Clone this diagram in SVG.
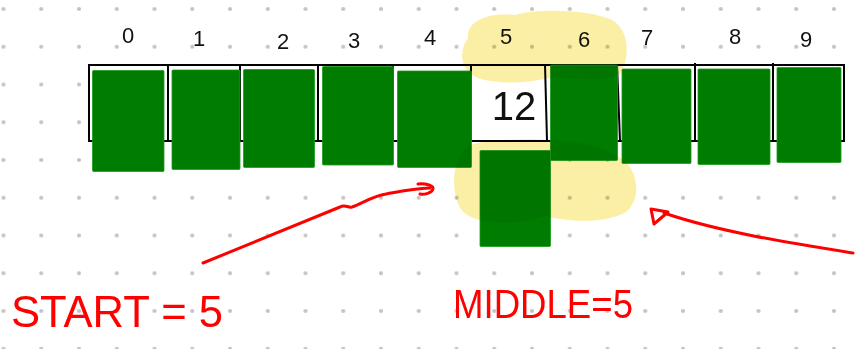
<svg xmlns="http://www.w3.org/2000/svg" width="867" height="349" viewBox="0 0 867 349">
<style>
.idx{font-family:"Liberation Sans",Arial,sans-serif;font-size:22px;fill:#111;text-anchor:middle}
.blk{fill:#007d00;stroke:#1a9a1a;stroke-width:0.8}
.red{fill:none;stroke:#f00;stroke-width:3;stroke-linecap:round;stroke-linejoin:round}
.lbl{font-family:"Liberation Sans",Arial,sans-serif;fill:#f00}
.hl{fill:#fbee9c;mix-blend-mode:multiply;opacity:0.9}
</style>
<defs>
<pattern id="dots" patternUnits="userSpaceOnUse" x="-15.375" y="-9.875" width="37.75" height="37.75">
<circle cx="18.875" cy="18.875" r="2.1" fill="#c3c3c3"/>
</pattern>
</defs>
<rect width="867" height="349" fill="#fff"/>
<rect width="867" height="349" fill="url(#dots)"/>
<g id="array">
<rect x="89" y="65" width="755" height="76" fill="#fff" stroke="#000" stroke-width="2"/>
<path d="M168 65V141M240 64V141M318 64V141M393 64V141M471 64V141M545 64L547 141M617 64L620 141M695 63V141M773 63V141" stroke="#000" stroke-width="2" fill="none"/>
</g>
<g id="indices">
<text class="idx" x="128" y="43">0</text>
<text class="idx" x="199" y="46">1</text>
<text class="idx" x="283" y="49">2</text>
<text class="idx" x="354" y="48">3</text>
<text class="idx" x="430" y="45">4</text>
<text class="idx" x="506" y="44">5</text>
<text class="idx" x="584" y="47">6</text>
<text class="idx" x="647" y="45">7</text>
<text class="idx" x="735" y="44">8</text>
<text class="idx" x="806" y="47">9</text>
</g>
<g id="cell5-value">
<text x="514" y="120" font-family="Liberation Sans,Arial,sans-serif" font-size="40" text-anchor="middle" fill="#111">12</text>
</g>
<g id="block0"><rect class="blk" x="92.5" y="70.5" width="71.5" height="101" rx="1"/></g>
<g id="block1"><rect class="blk" x="172" y="70" width="68" height="99.5" rx="1"/></g>
<g id="block2"><rect class="blk" x="243.5" y="69.5" width="71" height="98" rx="1"/></g>
<g id="block3"><rect class="blk" x="322.5" y="66.5" width="71" height="98.5" rx="1"/></g>
<g id="block4"><rect class="blk" x="397.5" y="71" width="74" height="96.5" rx="1"/></g>
<g id="block5"><rect class="blk" x="480" y="150.5" width="70.5" height="96" rx="1"/></g>
<g id="block6"><rect class="blk" x="550.5" y="65" width="67" height="95.5" rx="1"/></g>
<g id="block7"><rect class="blk" x="622" y="69" width="69" height="94.5" rx="1"/></g>
<g id="block8"><rect class="blk" x="698" y="69" width="72" height="95.5" rx="1"/></g>
<g id="block9"><rect class="blk" x="777" y="67.5" width="64" height="95" rx="1"/></g>
<g id="highlight">
<path class="hl" d="M468 38C466 20 490 12 515 15C540 8 590 10 612 20C630 30 630 58 620 74C600 84 570 76 548 78C525 84 495 84 478 78C460 70 458 52 468 38Z"/>
<path class="hl" d="M470 145C500 136 590 136 615 155C640 165 642 200 626 212C605 224 570 222 545 216C515 226 472 226 460 208C450 190 452 156 470 145Z"/>
</g>
<g id="connectors">
<path class="red" d="M203 263L340 207C345 204 348 208 352 207C362 204 372 196 386 194C398 192 410 189 430 188"/>
<path class="red" d="M418 184C426 183 434 186 433 189C432 193 424 195 420 194"/>
<path class="red" d="M853 253C790 243 720 232 664 213"/>
<path class="red" d="M651 209L668 212L654 224Z"/>
</g>
<g id="start-label">
<text class="lbl" x="11" y="327" font-size="44" textLength="212" lengthAdjust="spacingAndGlyphs">START = 5</text>
</g>
<g id="middle-label">
<text class="lbl" x="453" y="318" font-size="40" textLength="180" lengthAdjust="spacingAndGlyphs">MIDDLE=5</text>
</g>
</svg>
